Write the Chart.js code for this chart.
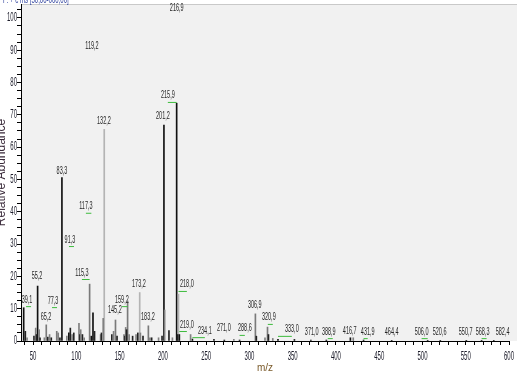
<!DOCTYPE html>
<html>
<head>
<meta charset="utf-8">
<script src="https://cdn.jsdelivr.net/npm/chart.js@4.4.1/dist/chart.umd.min.js"></script>
<style>
    html, body { margin: 0; padding: 0; background: #fff; }
    #spectrum { display: block; }
</style>
</head>
<body>
<canvas id="spectrum" width="519" height="374"></canvas>
<script>
// Labelled peaks (m/z, relative abundance)
const peakMz = [39.1, 55.2, 65.2, 77.3, 83.3, 91.3, 115.3, 117.3, 119.2, 132.2, 145.2, 159.2, 173.2, 183.2,
    201.2, 215.9, 218.0, 219.0, 234.1, 271.0, 288.6, 306.9, 320.9, 333.0, 371.0, 388.9, 416.7, 431.9,
    464.4, 506.0, 520.6, 550.7, 568.3, 582.4];
const peakInt = [10.3, 17.0, 5.0, 3.0, 50.6, 2.5, 17.6, 1.5, 8.7, 65.5, 6.5, 12.4, 15.0, 4.7,
    66.8, 73.6, 14.5, 2.0, 0.6, 0.3, 0.3, 8.4, 4.3, 0.5, 0.3, 0.3, 1.0, 0.3,
    0.2, 0.2, 0.2, 0.2, 0.2, 0.2];

// Small unlabelled peaks
const noiseMz = [41, 43, 51, 53, 54, 57, 58, 63, 67, 69, 71, 79, 81, 89, 93, 95, 97, 103, 104, 105,
    107, 109, 121, 128, 129, 131, 141, 143, 147, 155, 156, 157, 158, 161, 165, 169, 171, 174, 177, 185,
    187, 195, 199, 202, 207, 211, 217, 232, 259, 282, 308, 318, 322, 327, 352, 420];
const noiseInt = [3, 1, 1.5, 4, 2, 3.5, 1, 1, 1.2, 2, 1, 2.5, 1, 1.5, 4, 2, 2.5, 5.5, 2, 3.5,
    2, 1, 3, 2, 2.5, 7, 2, 3, 1.5, 2, 1.5, 4.2, 3.5, 2, 1.5, 2, 2.5, 2.5, 1.5, 1,
    1, 1, 1.5, 9.6, 3.2, 1, 2, 2, 0.5, 0.5, 1.5, 1, 2, 0.8, 0.5, 1];

// Peak annotations: text, where the text sits (m/z, abundance), and whether a leader is drawn
const labelText = ['216,9', '119,2', '215,9', '201,2', '132,2', '83,3', '117,3', '91,3', '55,2', '39,1',
    '77,3', '65,2', '115,3', '145,2', '159,2', '173,2', '183,2', '218,0', '219,0', '234,1',
    '271,0', '288,6', '306,9', '320,9', '333,0', '371,0', '388,9', '416,7', '431,9', '464,4',
    '506,0', '520,6', '550,7', '568,3', '582,4'];
const labelMz = [216, 118, 205.7, 200, 131.8, 83.3, 111, 92.6, 54.5, 43,
    73, 64.9, 106.4, 144.5, 152.6, 172.3, 182.7, 227.7, 227.7, 248.5,
    270.4, 294.7, 306.2, 322.4, 349, 372, 391.7, 415.9, 436.7, 464.4,
    499, 519.8, 549.9, 569.5, 592.6];
const labelAt = [101.5, 89.5, 74.3, 67.8, 66.3, 51, 40, 29.7, 18.3, 11.1,
    10.8, 5.6, 19.5, 8, 11.1, 15.8, 5.6, 15.8, 3.4, 1.5,
    2.2, 2.2, 9.6, 5.6, 1.9, 1.2, 1.2, 1.5, 1.2, 1.2,
    1.2, 1.2, 1.2, 1.2, 1.2];
const leaderTo = [null, null, 215.9, null, null, null, 117.3, 91.3, null, 39.1,
    77.3, null, 115.3, null, 159.2, null, null, 218.0, 219.0, 234.1,
    null, 288.6, null, 320.9, 333.0, null, 388.9, null, 431.9, null,
    506.0, null, null, 568.3, null];

// Axis ranges and tick labels
const mzRange = [36, 600];
const abundanceRange = [0, 104.3];
const xTickLabels = [50, 100, 150, 200, 250, 300, 350, 400, 450, 500, 550, 600];
const yTickLabels = [0, 10, 20, 30, 40, 50, 60, 70, 80, 90, 100];

// Line shades
const lightGray = [132.2, 173.2, 218.0];
const midGray = [65.2, 77.3, 115.3, 145.2, 159.2, 183.2, 306.9, 320.9];

const points = [];
const colors = [];
peakMz.forEach((m, i) => {
    points.push({ x: m, y: peakInt[i] });
    if (lightGray.includes(m)) colors.push('#b4b4b4');
    else if (midGray.includes(m)) colors.push('#7a7a7a');
    else colors.push('#111');
});
noiseMz.forEach((m, i) => {
    points.push({ x: m, y: noiseInt[i] });
    colors.push(i % 2 ? '#808080' : '#222');
});

// Squeezed text, like the narrow font of the original software
function narrowText(ctx, text, x, y, align, sx) {
    ctx.save();
    ctx.translate(x, y);
    ctx.scale(sx, 1);
    ctx.textAlign = align;
    ctx.fillText(text, 0, 0);
    ctx.restore();
}

const spectrumDecor = {
    id: 'spectrumDecor',
    beforeDraw(chart) {
        const { ctx, chartArea: a } = chart;
        ctx.save();
        ctx.fillStyle = '#f1f1f1';
        ctx.fillRect(a.left, a.top, a.right - a.left + 8, a.bottom - a.top);
        ctx.fillStyle = '#c9c9c9';
        ctx.fillRect(a.left, a.top, a.right - a.left + 8, 1);
        // header line, cut by the top edge
        ctx.font = '11px "Liberation Sans"';
        ctx.fillStyle = '#2b3e9c';
        ctx.textBaseline = 'middle';
        narrowText(ctx, 'F: + c ms [50,00-600,00]', 3, 0, 'left', 0.55);
        ctx.restore();
    },
    afterDraw(chart) {
        const { ctx } = chart;
        const xs = chart.scales.x, ys = chart.scales.y;
        ctx.save();
        ctx.fillStyle = '#1c1c2a';
        ctx.font = '12px "Liberation Sans"';
        ctx.textBaseline = 'middle';
        ys.ticks.forEach(t => {
            if (yTickLabels.includes(t.value)) {
                narrowText(ctx, String(t.value), xs.left - 4, ys.getPixelForValue(t.value), 'right', 0.5);
            }
        });
        xs.ticks.forEach(t => {
            if (xTickLabels.includes(t.value)) {
                narrowText(ctx, String(t.value), xs.getPixelForValue(t.value), ys.bottom + 16, 'center', 0.5);
            }
        });

        // peak annotations
        ctx.font = '11px "Liberation Sans"';
        ctx.textBaseline = 'bottom';
        labelText.forEach((txt, i) => {
            const x = xs.getPixelForValue(labelMz[i]);
            const y = ys.getPixelForValue(labelAt[i]);
            ctx.fillStyle = '#262626';
            narrowText(ctx, txt, x, y, 'center', 0.5);
            if (leaderTo[i] !== null) {
                const px = xs.getPixelForValue(leaderTo[i]);
                let x0 = Math.min(x, px), x1 = Math.max(x, px);
                if (x1 - x0 < 4) { x0 = x - 1; x1 = x + 4; }
                ctx.fillStyle = '#3dbb3d';
                ctx.fillRect(x0, y + 1, x1 - x0, 1);
            }
        });
        ctx.restore();
    }
};

new Chart(document.getElementById('spectrum'), {
    type: 'bar',
    data: {
        datasets: [{
            data: points,
            backgroundColor: colors,
            borderWidth: 0,
            barThickness: 1,
            grouped: false
        }]
    },
    options: {
        responsive: false,
        animation: false,
        devicePixelRatio: 1,
        layout: { padding: { top: 4, right: 10, left: 0, bottom: 0 } },
        plugins: {
            legend: { display: false },
            tooltip: { enabled: false }
        },
        scales: {
            x: {
                type: 'linear',
                min: mzRange[0],
                max: mzRange[1],
                offset: false,
                grid: { display: true, drawOnChartArea: false, offset: false, tickLength: 4, tickColor: '#000' },
                border: { display: true, color: '#000', width: 1 },
                ticks: { display: false, stepSize: 10, includeBounds: false },
                title: {
                    display: true,
                    text: 'm/z',
                    color: '#7a5a2a',
                    font: { family: 'Liberation Sans', size: 10 },
                    padding: { top: 0, bottom: 0 }
                },
                afterFit(scale) { scale.height = 33; }
            },
            y: {
                min: abundanceRange[0],
                max: abundanceRange[1],
                grid: { display: true, drawOnChartArea: false, tickLength: 4, tickColor: '#000' },
                border: { display: true, color: '#000', width: 1 },
                ticks: { display: false, stepSize: 2.5, includeBounds: false },
                title: {
                    display: true,
                    text: 'Relative Abundance',
                    color: '#3a2a3a',
                    font: { family: 'Liberation Sans', size: 12 },
                    padding: { top: -6, bottom: 0 }
                },
                afterFit(scale) { scale.width = 21; }
            }
        }
    },
    plugins: [spectrumDecor]
});
</script>
</body>
</html>
